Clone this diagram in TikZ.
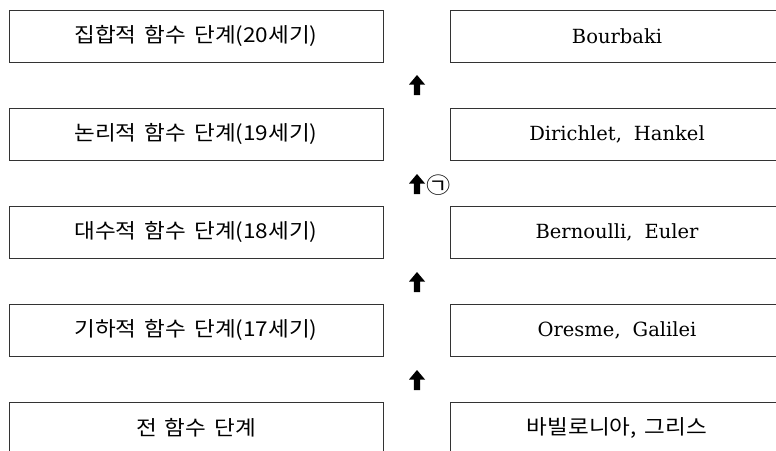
\documentclass[tikz,border=0pt]{standalone}
\usepackage{fontspec}
\newfontfamily\kofont[FakeStretch=1.1, WordSpace=1.6]{Noto Sans CJK KR}
\newfontfamily\lafont{DejaVu Serif}
\tikzset{
  lbox/.style={draw=black!80, line width=0.9pt, minimum width=374pt, minimum height=52pt, inner sep=0pt, font=\kofont\fontsize{20.5}{22}\selectfont},
  rbox/.style={draw=black!80, line width=0.9pt, minimum width=334pt, minimum height=52pt, inner sep=0pt, font=\lafont\fontsize{19.5}{22}\selectfont},
  uparrow/.style={fill=black, draw=none},
}
\newcommand{\blockarrow}[1]{%
  \fill[uparrow] ([xshift=-3.2pt,yshift=-10pt]#1) -- ([xshift=-3.2pt,yshift=0.5pt]#1) -- ([xshift=-8pt,yshift=0.5pt]#1) -- ([yshift=10pt]#1) -- ([xshift=8pt,yshift=0.5pt]#1) -- ([xshift=3.2pt,yshift=0.5pt]#1) -- ([xshift=3.2pt,yshift=-10pt]#1) -- cycle;}
\newcommand{\wsp}{\hspace{12pt}}
\begin{document}
\begin{tikzpicture}[x=1pt,y=-1pt]
\useasboundingbox (0,0) rectangle (776,450);
\clip (0,0) rectangle (776,450);
\node[lbox] (l1) at (196,36) {집합적 함수 단계(20세기)};
\node[lbox] (l2) at (196,134) {논리적 함수 단계(19세기)};
\node[lbox] (l3) at (196,232) {대수적 함수 단계(18세기)};
\node[lbox] (l4) at (196,330) {기하적 함수 단계(17세기)};
\node[lbox] (l5) at (196,428) {전 함수 단계};
\node[rbox] (r1) at (617,36) {Bourbaki};
\node[rbox] (r2) at (617,134) {Dirichlet,\wsp Hankel};
\node[rbox] (r3) at (617,232) {Bernoulli,\wsp Euler};
\node[rbox] (r4) at (617,330) {Oresme,\wsp Galilei};
\node[rbox, font=\kofont\fontsize{20.5}{22}\selectfont] (r5) at (617,428) {바빌로니아, 그리스};
\coordinate (a1) at (417,85);
\coordinate (a2) at (417,184);
\coordinate (a3) at (417,282);
\coordinate (a4) at (417,380);
\blockarrow{a1}
\blockarrow{a2}
\blockarrow{a3}
\blockarrow{a4}
\node[font=\kofont\fontsize{22}{24}\selectfont, inner sep=0pt] (g) at (439,185) {㉠};
\end{tikzpicture}
\end{document}
